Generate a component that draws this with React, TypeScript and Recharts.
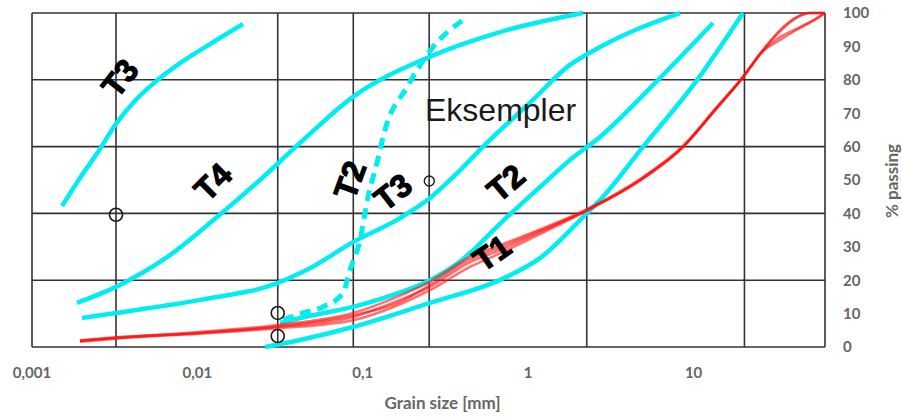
import React from 'react';
import { LineChart, Line, XAxis, YAxis, CartesianGrid, ReferenceDot, Label } from 'recharts';

type Pt = { x: number; y: number };
const P = (x: number, y: number): Pt => ({ x, y });

// Grain size axis (mm, logarithmic) and % passing axis
const X_MIN = 0.001;
const X_MAX = 62.3;
const xTicks = [0.001, 0.01, 0.1, 1, 10];
const yTicks = [0, 10, 20, 30, 40, 50, 60, 70, 80, 90, 100];
const gridX = [0.001, 0.00322, 0.0306, 0.0876, 0.252, 2.26, 20.3, 62.3];
const gridY = [0, 20, 40, 60, 80, 100];

// Envelope curves (cyan)
const curveT3Fine: Pt[] = [
  P(0.001519, 42.2), P(0.00195, 50.6), P(0.002506, 58.4), P(0.00322, 66.8), P(0.004195, 73.7),
  P(0.005541, 79.3), P(0.007849, 85.0), P(0.01192, 90.7), P(0.01887, 96.7),
];
const curveT4: Pt[] = [
  P(0.001872, 13.2), P(0.00322, 18.0), P(0.00655, 26.9), P(0.01314, 38.9), P(0.0239, 50.0),
  P(0.04173, 61.1), P(0.08723, 74.9), P(0.2513, 86.8), P(0.6754, 94.3), P(2.145, 100),
];
const curveT3: Pt[] = [
  P(0.002006, 8.7), P(0.00322, 10.2), P(0.01037, 14.1), P(0.03071, 19.2), P(0.04599, 23.1),
  P(0.08723, 31.4), P(0.1679, 38.6), P(0.2548, 44.6), P(0.3367, 50.0), P(0.5875, 62.0),
  P(1.069, 74.0), P(1.717, 83.8), P(2.718, 89.8), P(4.742, 95.5), P(8.277, 100),
];
const curveT2: Pt[] = [
  P(0.03158, 7.2), P(0.04173, 8.7), P(0.08723, 12.0), P(0.1461, 15.3), P(0.2548, 20.0),
  P(0.3871, 25.6), P(0.7444, 38.9), P(1.178, 47.9), P(1.789, 56.0), P(2.718, 62.9),
  P(5.45, 77.5), P(13.1, 97.0),
];
const curveT1: Pt[] = [
  P(0.02563, 0), P(0.04173, 2.1), P(0.08723, 6.0), P(0.2548, 13.2), P(0.6754, 20.1),
  P(1.178, 26.6), P(2.267, 40.1), P(2.718, 44.0), P(4.945, 59.9), P(10.49, 79.9), P(19.89, 100),
];
const curveT2Dashed: Pt[] = [
  P(0.03292, 8.1), P(0.04349, 10.2), P(0.05746, 12.0), P(0.07593, 16.2), P(0.0837, 23.1),
  P(0.09618, 32.0), P(0.1075, 44.9), P(0.1219, 55.1), P(0.1362, 65.0), P(0.185, 77.8),
  P(0.2657, 89.8), P(0.4036, 97.9),
];

// Measured gradings (red)
const gradingA: Pt[] = [
  P(0.00195, 1.8), P(0.00322, 2.7), P(0.01037, 4.2), P(0.03071, 6.0), P(0.08723, 9.0),
  P(0.1679, 14.1), P(0.2548, 18.0), P(0.4447, 25.4), P(0.6754, 29.0), P(1.178, 34.4),
  P(2.267, 41.0), P(4.742, 50.0), P(8.629, 59.9), P(13.47, 71.0), P(19.89, 80.8),
  P(26.28, 88.9), P(33.3, 94.9), P(41.03, 98.5), P(50.55, 100), P(62.3, 100),
];
const gradingB: Pt[] = [
  P(0.00195, 1.6), P(0.00322, 2.5), P(0.01037, 4.0), P(0.03071, 5.6), P(0.08723, 8.0),
  P(0.1679, 12.8), P(0.2548, 17.0), P(0.4447, 24.0), P(0.6754, 28.0), P(1.178, 33.8),
  P(2.267, 40.8), P(4.742, 50.0), P(8.629, 60.0), P(13.47, 71.0), P(19.89, 80.8),
  P(26.28, 88.5), P(33.3, 91.9), P(43.98, 95.5), P(52.7, 97.6), P(62.3, 100),
];
const gradingC: Pt[] = [
  P(0.00195, 2.0), P(0.00322, 2.9), P(0.01037, 4.5), P(0.03071, 6.6), P(0.08723, 10.2),
  P(0.1679, 15.4), P(0.2548, 19.6), P(0.4447, 27.0), P(0.6754, 30.5), P(1.178, 35.2),
  P(2.267, 41.3), P(4.742, 50.3), P(8.629, 60.2), P(13.47, 71.2), P(19.89, 80.8),
  P(26.28, 88.9), P(33.3, 94.5), P(41.03, 98.3), P(50.55, 100), P(62.3, 100),
];
const gradingD: Pt[] = [
  P(0.00195, 1.9), P(0.00322, 2.8), P(0.01037, 4.3), P(0.03071, 6.2), P(0.08723, 9.5),
  P(0.1679, 13.5), P(0.2548, 18.6), P(0.4447, 26.2), P(0.6754, 29.8), P(1.178, 34.8),
  P(2.267, 41.0), P(4.742, 49.8), P(8.629, 59.8), P(13.47, 70.8), P(19.89, 80.8),
  P(26.28, 88.7), P(33.3, 92.8), P(43.98, 95.8), P(52.7, 97.8), P(62.3, 100),
];

// Open circle markers
const gaugeMarks: Pt[] = [P(0.00322, 39.6), P(0.0306, 10.2), P(0.0306, 3.3)];
const sampleMarks: Pt[] = [P(0.2524, 49.7)];

// Curve tags
type Tag = { text: string; x: number; y: number; angle: number };
const tags: Tag[] = [
  { text: 'T3', x: 0.003404, y: 80.5, angle: -52 },
  { text: 'T4', x: 0.01243, y: 49.4, angle: -45 },
  { text: 'T2', x: 0.0837, y: 50.0, angle: -70 },
  { text: 'T3', x: 0.1523, y: 46.4, angle: -38 },
  { text: 'T2', x: 0.734, y: 49.1, angle: -40 },
  { text: 'T1', x: 0.6042, y: 28.1, angle: -35 },
];
const title = { text: 'Eksempler', x: 0.2377, y: 67.7 };

const CYAN = '#00eef2';
const RED = '#ff1010';
const GRID = '#333333';
const AXIS_TEXT = '#666666';
const AXIS_FONT = "Lato, 'Open Sans', sans-serif";
const TAG_FONT = "'Liberation Sans', Arial, sans-serif";

const fmtX = (v: number) => String(v).replace('.', ',');

const tagShape = (text: string, angle: number) => (p: any) => (
  <text
    x={p.cx}
    y={p.cy}
    transform={`rotate(${angle}, ${p.cx}, ${p.cy})`}
    textAnchor="middle"
    dominantBaseline="central"
    fontFamily={TAG_FONT}
    fontWeight="bold"
    fontSize={32}
    fill="#000"
    stroke="#000"
    strokeWidth={1.2}
  >
    {text}
  </text>
);

const titleShape = (p: any) => (
  <text x={p.cx} y={p.cy} fontFamily={TAG_FONT} fontSize={32} fill="#1a1a1a">
    {title.text}
  </text>
);

const cyanLine = (data: Pt[], key: string, dashed = false) => (
  <Line
    key={key}
    data={data}
    dataKey="y"
    type="monotone"
    stroke={CYAN}
    strokeWidth={dashed ? 5 : 4.5}
    strokeDasharray={dashed ? '11 7' : undefined}
    strokeLinecap="butt"
    dot={false}
    activeDot={false}
    isAnimationActive={false}
  />
);

const redLine = (data: Pt[], key: string) => (
  <Line
    key={key}
    data={data}
    dataKey="y"
    type="monotone"
    stroke={RED}
    strokeOpacity={0.6}
    strokeWidth={2.5}
    dot={false}
    activeDot={false}
    isAnimationActive={false}
  />
);

export default function App() {
  return (
    <div style={{ position: 'absolute', left: 0, top: 0, background: '#fff' }}>
      <LineChart width={902} height={418} margin={{ top: 13, left: 32, right: 17, bottom: 41 }}>
        <CartesianGrid
          stroke={GRID}
          strokeWidth={1.6}
          horizontalValues={gridY}
          verticalValues={gridX}
        />
        <XAxis
          dataKey="x"
          type="number"
          scale="log"
          domain={[X_MIN, X_MAX]}
          allowDataOverflow
          ticks={xTicks}
          tickFormatter={fmtX}
          axisLine={false}
          tickLine={false}
          tickSize={0}
          tickMargin={20}
          height={30}
          tick={{ fill: AXIS_TEXT, fontSize: 15, fontWeight: 'bold', fontFamily: AXIS_FONT }}
        >
          <Label
            content={(props: any) => {
              const vb = props.viewBox;
              return (
                <text
                  x={vb.x + vb.width / 2 + 14}
                  y={vb.y + 62}
                  textAnchor="middle"
                  fill={AXIS_TEXT}
                  fontFamily={AXIS_FONT}
                  fontWeight="bold"
                  fontSize={17}
                >
                  Grain size [mm]
                </text>
              );
            }}
          />
        </XAxis>
        <YAxis
          type="number"
          orientation="right"
          domain={[0, 100]}
          ticks={yTicks}
          axisLine={false}
          tickLine={false}
          tickSize={0}
          tickMargin={18}
          width={60}
          tick={{ fill: AXIS_TEXT, fontSize: 15, fontWeight: 'bold', fontFamily: AXIS_FONT, textAnchor: 'start' }}
        >
          <Label
            content={(props: any) => {
              const vb = props.viewBox;
              const cx = vb.x + 66;
              const cy = vb.y + vb.height / 2 + 1;
              return (
                <text
                  x={cx}
                  y={cy}
                  transform={`rotate(-90, ${cx}, ${cy})`}
                  textAnchor="middle"
                  dominantBaseline="central"
                  fill={AXIS_TEXT}
                  fontFamily={AXIS_FONT}
                  fontWeight="bold"
                  fontSize={17}
                >
                  % passing
                </text>
              );
            }}
          />
        </YAxis>

        {cyanLine(curveT3Fine, 't3f')}
        {cyanLine(curveT4, 't4')}
        {cyanLine(curveT3, 't3')}
        {cyanLine(curveT2, 't2')}
        {cyanLine(curveT1, 't1')}
        {cyanLine(curveT2Dashed, 't2d', true)}

        {redLine(gradingA, 'ga')}
        {redLine(gradingB, 'gb')}
        {redLine(gradingC, 'gc')}
        {redLine(gradingD, 'gd')}

        {gaugeMarks.map((m, i) => (
          <ReferenceDot key={`g${i}`} x={m.x} y={m.y} r={6.5} fill="none" stroke="#1a1a1a" strokeWidth={1.6} />
        ))}
        {sampleMarks.map((m, i) => (
          <ReferenceDot key={`s${i}`} x={m.x} y={m.y} r={5} fill="none" stroke="#1a1a1a" strokeWidth={1.4} />
        ))}
        {tags.map((t, i) => (
          <ReferenceDot key={`t${i}`} x={t.x} y={t.y} r={1} shape={tagShape(t.text, t.angle)} />
        ))}
        <ReferenceDot x={title.x} y={title.y} r={1} shape={titleShape} />
      </LineChart>
    </div>
  );
}
